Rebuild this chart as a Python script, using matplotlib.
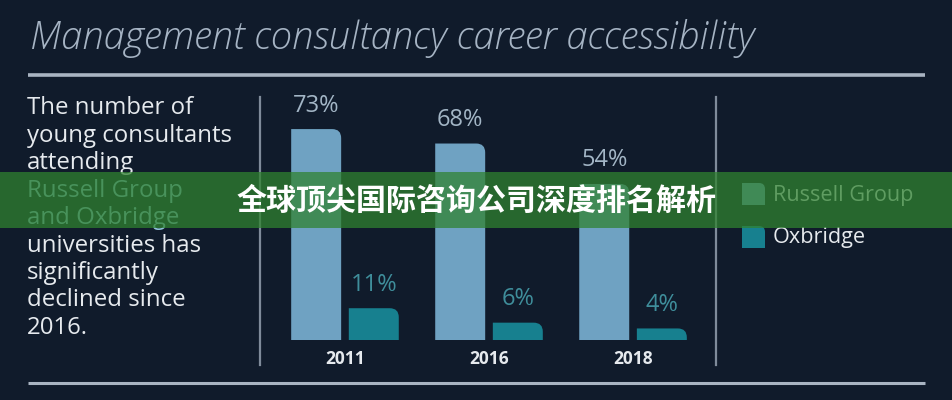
#!/usr/bin/env python3
"""Infographic: management consultancy career accessibility (grouped bars)."""

import matplotlib
matplotlib.use("Agg")
import matplotlib.pyplot as plt
from matplotlib.patches import Rectangle, PathPatch
from matplotlib.path import Path
import numpy as np

# ── data ────────────────────────────────────────────────────────────────
years = ["2011", "2016", "2018"]
russell = [73, 68, 54]
oxbridge = [11, 6, 4]
series_names = ["Russell Group", "Oxbridge"]

title = "Management consultancy career accessibility"
blurb = [
    ("The number of", "body"),
    ("young consultants", "body"),
    ("attending", "body"),
    ("Russell Group", "accent"),
    ("and Oxbridge", "accent"),
    ("universities has", "body"),
    ("significantly", "body"),
    ("declined since", "body"),
    ("2016.", "body"),
]
banner = "全球顶尖国际咨询公司深度排名解析"

# ── style ───────────────────────────────────────────────────────────────
BG = "#101b2b"
RG_COLOR = "#6fa2c2"
OX_COLOR = "#17808f"
RULE = "#a9b4c2"
TEXT = "#e6eaee"
ACCENT = "#8ec2d8"
W, H = 953, 400

plt.rcParams["font.family"] = ["Open Sans", "DejaVu Sans"]

fig = plt.figure(figsize=(W / 100, H / 100), dpi=100, facecolor=BG)

# background axes in pixel units (y measured from the top)
bg = fig.add_axes([0, 0, 1, 1])
bg.set_xlim(0, W)
bg.set_ylim(H, 0)
bg.axis("off")


def rounded_top_right(x0, y0, w, h, rx, ry):
    """Rectangle path with the top-right corner rounded (y grows upward)."""
    ry = min(ry, abs(h)) if ry > 0 else max(ry, -abs(h))
    verts = [(x0, y0), (x0 + w, y0), (x0 + w, y0 + h - ry),
             (x0 + w, y0 + h), (x0 + w - rx, y0 + h), (x0, y0 + h), (x0, y0)]
    codes = [Path.MOVETO, Path.LINETO, Path.LINETO,
             Path.CURVE3, Path.CURVE3, Path.LINETO, Path.CLOSEPOLY]
    return Path(verts, codes)


# title and rules
fig.text(30 / W, 1 - 38 / H, title, fontsize=27.5, color="#a6b4c4",
         style="italic", fontweight="light", va="center", ha="left")
bg.plot([28, 925], [75, 75], color=RULE, lw=2.6, solid_capstyle="butt")
bg.plot([28, 925], [383, 383], color=RULE, lw=2.2, solid_capstyle="butt")
bg.plot([260, 260], [97, 365], color="#7f8b9a", lw=1.6)
bg.plot([716, 716], [97, 365], color="#7f8b9a", lw=1.6)

# left blurb
for i, (line, kind) in enumerate(blurb):
    fig.text(27 / W, 1 - (108 + i * 27.5) / H, line, fontsize=17.3,
             color=ACCENT if kind == "accent" else TEXT,
             va="center", ha="left")

# ── bars ────────────────────────────────────────────────────────────────
ax = fig.add_axes([260 / W, 60 / H, 456 / W, 243 / H])
ax.set_facecolor("none")
ax.axis("off")
x = np.arange(len(years))
bw, off = 0.347, 0.2
ax.set_xlim(-0.59, 2.576)
ax.set_ylim(0, 84.1)

bars_rg = ax.bar(x - off, russell, bw, color=RG_COLOR)
bars_ox = ax.bar(x + off, oxbridge, bw, color=OX_COLOR)

p0 = ax.transData.transform((0, 0))
p1 = ax.transData.transform((1, 1))
rx = 9 / (p1[0] - p0[0])
ry = 9 / (p1[1] - p0[1])
for bars in (bars_rg, bars_ox):
    for b in bars:
        b.set_visible(False)
        ax.add_patch(PathPatch(rounded_top_right(b.get_x(), 0, b.get_width(),
                                                 b.get_height(), rx, ry),
                               facecolor=b.get_facecolor(), edgecolor="none"))

for xi, v in zip(x, russell):
    ax.text(xi - off, v + 4, f"{v}%", ha="center", va="bottom",
            fontsize=17, color="#a3b6c6")
for xi, v in zip(x, oxbridge):
    ax.text(xi + off, v + 4, f"{v}%", ha="center", va="bottom",
            fontsize=17, color="#3f8e9b")
for xi, yr in zip(x, years):
    ax.text(xi, -6.5, yr, ha="center", va="center", fontsize=12.5,
            fontweight="bold", color=TEXT)

# ── legend ──────────────────────────────────────────────────────────────
for i, (name, col) in enumerate(zip(series_names, [RG_COLOR, OX_COLOR])):
    top = 183 + i * 43
    bg.add_patch(PathPatch(rounded_top_right(742, top + 22, 23, -22, 6, -6),
                           facecolor=col, edgecolor="none"))
    bg.text(773, top + 12, name, fontsize=15.6, color=TEXT,
            va="center", ha="left")

# ── banner overlay ──────────────────────────────────────────────────────
fig.add_artist(Rectangle((0, 1 - 228 / H), 1, 56 / H, transform=fig.transFigure,
                         facecolor=(0.19, 0.51, 0.19), alpha=0.74,
                         edgecolor="none", zorder=10))
fig.text(477 / W, 1 - 201 / H, banner, fontsize=21.6, fontweight="bold",
         color="white", ha="center", va="center", zorder=11,
         family=["Noto Sans CJK SC", "DejaVu Sans"])

fig.savefig("out.png", dpi=100, facecolor=BG)
